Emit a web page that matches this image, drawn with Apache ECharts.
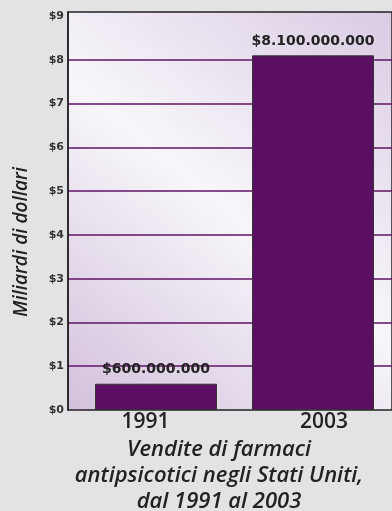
<!DOCTYPE html>
<html><head><meta charset="utf-8">
<script src="https://cdn.jsdelivr.net/npm/echarts@6/dist/echarts.min.js"></script>
<style>html,body{margin:0;padding:0;background:#e3e3e5;}#c{width:392px;height:511px;}</style>
</head><body><div id="c"></div>
<script>
const categories = ['1991', '2003'];
const salesBillions = [0.6, 8.1];
const barLabels = ['$600.000.000', '$8.100.000.000'];
const yTicks = [0, 1, 2, 3, 4, 5, 6, 7, 8, 9];
const yAxisTitle = 'Miliardi di dollari';
const titleLines = ['Vendite di farmaci', 'antipsicotici negli Stati Uniti,', 'dal 1991 al 2003'];

const YMAX = 9.09;
const chart = echarts.init(document.getElementById('c'), null, {renderer: 'canvas'});
const gridLineColors = yTicks.map(v => (v === 0 || v === 9) ? 'rgba(0,0,0,0)' : '#5e1466');
gridLineColors.push('rgba(0,0,0,0)');
const xLabelStyle = {color: '#222', fontFamily: 'Open Sans', fontWeight: 600, fontSize: 21};

chart.setOption({
  backgroundColor: '#e3e3e5',
  animation: false,
  grid: [
    {left: 68, right: -3, top: 12, bottom: 101, show: true,
     backgroundColor: new echarts.graphic.LinearGradient(0, 1, 1, 0, [
       {offset: 0, color: '#d2c0db'}, {offset: 0.5, color: '#f8f6fa'}, {offset: 1, color: '#dacbe3'}]),
     borderColor: '#222', borderWidth: 1.5},
    {left: 77.5, right: 0.5, top: 12, bottom: 101}
  ],
  xAxis: [
    {gridIndex: 0, type: 'value', min: 0, max: 1, show: false},
    {gridIndex: 1, type: 'category', data: categories,
     axisLine: {show: false}, axisTick: {show: false},
     axisLabel: {margin: 2,
       formatter: (v, i) => i === 0 ? '{a|' + v + '}' : '{b|' + v + '}',
       rich: {
         a: Object.assign({padding: [0, 21, 0, 0]}, xLabelStyle),
         b: Object.assign({padding: [0, 0, 0, 22]}, xLabelStyle)
       }}}
  ],
  yAxis: [
    {gridIndex: 0, type: 'value', min: 0, max: YMAX, interval: 1,
     axisLine: {show: true, lineStyle: {color: '#222', width: 1.5}},
     axisTick: {show: false},
     axisLabel: {color: '#333', fontFamily: 'DejaVu Sans', fontWeight: 'bold', fontSize: 11, margin: 4,
       formatter: v => yTicks.includes(v) ? '$' + v : ''},
     splitLine: {show: true, lineStyle: {color: gridLineColors, width: 1.6}}},
    {gridIndex: 1, type: 'value', min: 0, max: YMAX, show: false, splitLine: {show: false}}
  ],
  series: [{
    type: 'bar', xAxisIndex: 1, yAxisIndex: 1,
    data: salesBillions, barWidth: 122,
    itemStyle: {color: '#5b0f63', borderColor: '#333', borderWidth: 1},
    label: {show: true, position: 'top', distance: 7, color: '#222',
      fontFamily: 'DejaVu Sans', fontWeight: 'bold', fontSize: 14,
      formatter: p => barLabels[p.dataIndex]}
  }],
  graphic: [
    {type: 'text', x: 22, y: 242, rotation: Math.PI / 2,
     style: {text: yAxisTitle, fill: '#222', font: 'italic 600 19px "Open Sans"',
       textAlign: 'center', textVerticalAlign: 'middle'}},
    {type: 'text', x: 219, y: 437,
     style: {text: titleLines.join('\n'), fill: '#222', font: 'italic 600 22px "Open Sans"',
       lineHeight: 26, textAlign: 'center', textVerticalAlign: 'top'}}
  ]
});
</script></body></html>
